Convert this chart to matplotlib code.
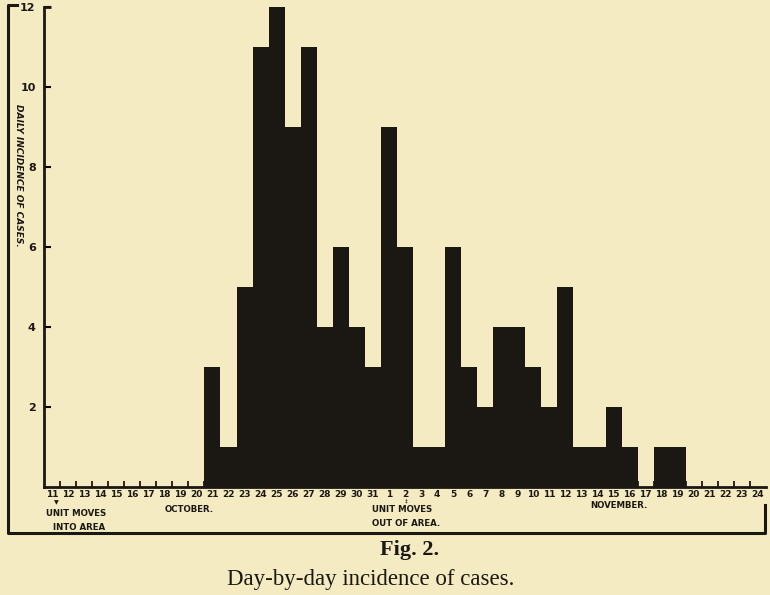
import matplotlib.pyplot as plt
from matplotlib.lines import Line2D

# day labels, Oct 11 -> Nov 24
oct_days = list(range(11, 32))
nov_days = list(range(1, 25))
day_labels = [str(d) for d in oct_days] + [str(d) for d in nov_days]

# daily cases
oct_cases = [0, 0, 0, 0, 0, 0, 0, 0, 0, 0, 3, 1, 5, 11, 12, 9, 11, 4, 6, 4, 3]
nov_cases = [9, 6, 1, 1, 6, 3, 2, 4, 4, 3, 2, 5, 1, 1, 2, 1, 0, 1, 1, 0, 0, 0, 0, 0]
cases = oct_cases + nov_cases

y_ticks = [2, 4, 6, 8, 10, 12]

paper = '#f4ebc2'
ink = '#1b1713'
W, H = 770, 595

fig = plt.figure(figsize=(7.7, 5.95), dpi=100, facecolor=paper)
ax = fig.add_axes([44 / W, 1 - 487 / H, (766 - 44) / W, (487 - 7) / H])
ax.set_facecolor(paper)

x = list(range(len(cases)))
ax.bar(x, cases, width=1.0, color=ink, linewidth=0)

ax.set_xlim(-0.5, len(cases) - 0.5)
ax.set_ylim(0, 12)

for s in ['top', 'right']:
    ax.spines[s].set_visible(False)
for s in ['left', 'bottom']:
    ax.spines[s].set_linewidth(2)
    ax.spines[s].set_color(ink)

ax.set_yticks(y_ticks)
ax.set_yticklabels([str(t) for t in y_ticks], fontsize=8, fontweight='bold',
                   color=ink)
ax.tick_params(axis='y', direction='in', length=5, width=1.5, pad=6)

ax.set_xticks(x)
ax.set_xticklabels(day_labels, fontsize=6.5, fontweight='bold', color=ink)
ax.tick_params(axis='x', which='major', length=0, pad=2)
ax.set_xticks([i + 0.5 for i in x[:-1]], minor=True)
ax.tick_params(axis='x', which='minor', direction='in', length=4, width=1.3,
               color=ink)

# little hook on top of the y axis
ax.plot([-0.5, -0.05], [12, 12], color=ink, lw=2, clip_on=False,
        solid_capstyle='butt')

fig.text(18 / W, 1 - 175 / H, 'DAILY INCIDENCE OF CASES.', rotation=-90,
         fontsize=6.5, fontweight='bold', style='italic', color=ink,
         ha='center', va='center')

# outer frame
def fline(xs, ys):
    fig.add_artist(Line2D([v / W for v in xs], [1 - v / H for v in ys],
                          color=ink, lw=2.2, transform=fig.transFigure))

fline([17, 8, 8, 765, 765], [5, 5, 533, 533, 505])

# annotations under the axis
small = dict(fontsize=6.2, fontweight='bold', color=ink, ha='left', va='center')
fig.text(56 / W, 1 - 503 / H, '▼', fontsize=4.5, color=ink, ha='center',
         va='center')
fig.text(46 / W, 1 - 513 / H, 'UNIT MOVES', **small)
fig.text(53 / W, 1 - 527 / H, 'INTO AREA', **small)
fig.text(165 / W, 1 - 510 / H, 'OCTOBER.', **small)
fig.text(406 / W, 1 - 501 / H, '‡', fontsize=4, color=ink, ha='center',
         va='center')
fig.text(372 / W, 1 - 509 / H, 'UNIT MOVES', **small)
fig.text(372 / W, 1 - 523 / H, 'OUT OF AREA.', **small)
fig.text(590 / W, 1 - 505 / H, 'NOVEMBER.', **small)

fig.text(410 / W, 1 - 550 / H, 'Fig. 2.', fontsize=16, fontweight='bold',
         family='Liberation Serif', color=ink, ha='center', va='center')
fig.text(371 / W, 1 - 580 / H, 'Day-by-day incidence of cases.', fontsize=16.5,
         family='Liberation Serif', color=ink, ha='center', va='center')

fig.savefig('out.png', dpi=100, facecolor=paper)
